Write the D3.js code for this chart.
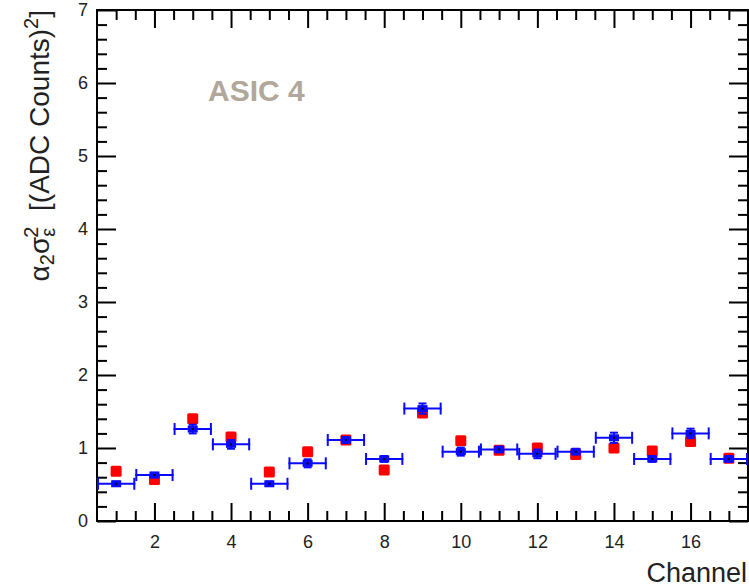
<!DOCTYPE html>
<html>
<head>
<meta charset="utf-8">
<script src="https://cdn.jsdelivr.net/npm/d3@7"></script>
<style>
  body { margin: 0; background: #fff; }
  svg text { font-family: 'Liberation Sans', Arial, sans-serif; }
</style>
</head>
<body>
<script>
// channel numbers
let channels = [1, 2, 3, 4, 5, 6, 7, 8, 9, 10, 11, 12, 13, 14, 15, 16, 17];
// blue points with error bars
let blueVals = [0.51, 0.63, 1.26, 1.05, 0.51, 0.79, 1.11, 0.85, 1.54, 0.95, 0.98, 0.92, 0.95, 1.14, 0.85, 1.20, 0.85];
let blueErr = [0.03, 0.03, 0.06, 0.06, 0.03, 0.055, 0.04, 0.04, 0.07, 0.055, 0.04, 0.06, 0.04, 0.07, 0.04, 0.065, 0.04];
// red squares
let redVals = [0.68, 0.57, 1.40, 1.15, 0.67, 0.95, 1.11, 0.70, 1.48, 1.10, 0.97, 1.00, 0.91, 1.00, 0.96, 1.09, 0.86];
let xMajor = [2, 4, 6, 8, 10, 12, 14, 16];
let yMajor = [0, 1, 2, 3, 4, 5, 6, 7];

const W = 749, H = 587;
const pLeft = 97, pRight = 748, pTop = 10, pBottom = 521;

let svg = d3.select('body').append('svg')
  .attr('width', W)
  .attr('height', H);

let x = d3.scaleLinear().domain([0.5, 17.5]).range([pLeft, pRight]);
let y = d3.scaleLinear().domain([0, 7]).range([pBottom, pTop]);

let xMinor = d3.range(1, 35).map(i => 0.5 + i * 0.5).filter(v => v < 17.5 && xMajor.indexOf(v) < 0);
let yMinor = d3.range(1, 35).map(i => i * 0.2).filter(v => v < 7 && Math.abs(v - Math.round(v)) > 0.01);

function styleAxis(g) {
  g.select('.domain').remove();
  g.selectAll('line').attr('stroke', '#000').attr('stroke-width', 2);
  g.selectAll('text').attr('fill', '#222').style('font-size', '18px');
}

// bottom
svg.append('g').attr('transform', `translate(0,${pBottom})`)
  .call(d3.axisBottom(x).tickValues(xMinor).tickSize(-10).tickFormat(''))
  .call(styleAxis);
svg.append('g').attr('transform', `translate(0,${pBottom})`)
  .call(d3.axisBottom(x).tickValues(xMajor).tickSize(-18).tickPadding(14).tickFormat(d3.format('d')))
  .call(styleAxis);
// top
svg.append('g').attr('transform', `translate(0,${pTop})`)
  .call(d3.axisTop(x).tickValues(xMinor).tickSize(-10).tickFormat(''))
  .call(styleAxis);
svg.append('g').attr('transform', `translate(0,${pTop})`)
  .call(d3.axisTop(x).tickValues(xMajor).tickSize(-18).tickFormat(''))
  .call(styleAxis);
// left
svg.append('g').attr('transform', `translate(${pLeft},0)`)
  .call(d3.axisLeft(y).tickValues(yMinor).tickSize(-10).tickFormat(''))
  .call(styleAxis);
svg.append('g').attr('transform', `translate(${pLeft},0)`)
  .call(d3.axisLeft(y).tickValues(yMajor).tickSize(-19).tickPadding(9).tickFormat(d3.format('d')))
  .call(styleAxis);
// right
svg.append('g').attr('transform', `translate(${pRight},0)`)
  .call(d3.axisRight(y).tickValues(yMinor).tickSize(-10).tickFormat(''))
  .call(styleAxis);
svg.append('g').attr('transform', `translate(${pRight},0)`)
  .call(d3.axisRight(y).tickValues(yMajor).tickSize(-19).tickFormat(''))
  .call(styleAxis);

// frame
svg.append('rect')
  .attr('x', pLeft).attr('y', pTop)
  .attr('width', pRight - pLeft).attr('height', pBottom - pTop)
  .attr('fill', 'none').attr('stroke', '#000').attr('stroke-width', 2);

let pts = channels.map((c, i) => ({c: c, b: blueVals[i], e: blueErr[i], r: redVals[i]}));

// red squares first
svg.append('g').selectAll('rect')
  .data(pts).enter()
  .append('rect')
  .attr('x', d => x(d.c) - 5.5)
  .attr('y', d => y(d.r) - 5.5)
  .attr('width', 11).attr('height', 11)
  .attr('rx', 1.5)
  .attr('fill', '#ff0000');

// blue points
let bg = svg.append('g').selectAll('g')
  .data(pts).enter()
  .append('g');

const blue = '#0a0aff';
bg.append('line')
  .attr('x1', d => x(d.c - 0.5)).attr('x2', d => x(d.c + 0.5))
  .attr('y1', d => y(d.b)).attr('y2', d => y(d.b))
  .attr('stroke', blue).attr('stroke-width', 2);
bg.append('line')
  .attr('x1', d => x(d.c - 0.5) + 1).attr('x2', d => x(d.c - 0.5) + 1)
  .attr('y1', d => y(d.b) - 6).attr('y2', d => y(d.b) + 6)
  .attr('stroke', blue).attr('stroke-width', 2);
bg.append('line')
  .attr('x1', d => x(d.c + 0.5) - 1).attr('x2', d => x(d.c + 0.5) - 1)
  .attr('y1', d => y(d.b) - 6).attr('y2', d => y(d.b) + 6)
  .attr('stroke', blue).attr('stroke-width', 2);
bg.append('line')
  .attr('x1', d => x(d.c)).attr('x2', d => x(d.c))
  .attr('y1', d => y(d.b + d.e)).attr('y2', d => y(d.b - d.e))
  .attr('stroke', blue).attr('stroke-width', 2);
bg.append('line')
  .attr('x1', d => x(d.c) - 4).attr('x2', d => x(d.c) + 4)
  .attr('y1', d => y(d.b + d.e)).attr('y2', d => y(d.b + d.e))
  .attr('stroke', blue).attr('stroke-width', 2);
bg.append('line')
  .attr('x1', d => x(d.c) - 4).attr('x2', d => x(d.c) + 4)
  .attr('y1', d => y(d.b - d.e)).attr('y2', d => y(d.b - d.e))
  .attr('stroke', blue).attr('stroke-width', 2);
bg.append('rect')
  .attr('x', d => x(d.c) - 5).attr('y', d => y(d.b) - 3.5)
  .attr('width', 10).attr('height', 7)
  .attr('fill', blue);
bg.append('rect')
  .attr('x', d => x(d.c) - 1).attr('y', d => y(d.b) - 1)
  .attr('width', 2).attr('height', 2)
  .attr('fill', '#000');

// labels
svg.append('text')
  .attr('x', 208).attr('y', 101)
  .attr('fill', '#b1a79a')
  .style('font-size', '30px').style('font-weight', 'bold')
  .text('ASIC 4');

svg.append('text')
  .attr('x', pRight - 1).attr('y', 582)
  .attr('text-anchor', 'end')
  .attr('fill', '#222')
  .style('font-size', '27px')
  .text('Channel');

let yl = svg.append('text')
  .attr('transform', 'translate(49,10) rotate(-90)')
  .attr('text-anchor', 'end')
  .attr('fill', '#222')
  .style('font-size', '28px');
yl.append('tspan').text('α');
yl.append('tspan').attr('dy', 5).style('font-size', '20px').text('2');
yl.append('tspan').attr('dy', -5).text('σ');
yl.append('tspan').attr('dy', 6).style('font-size', '20px').text('ε');
yl.append('tspan').attr('dx', -10).attr('dy', -17).style('font-size', '20px').text('2');
yl.append('tspan').attr('dx', 8).attr('dy', 11).text(' [(ADC Counts)');
yl.append('tspan').attr('dy', -11).style('font-size', '20px').text('2');
yl.append('tspan').attr('dy', 11).text(']');
</script>
</body>
</html>
